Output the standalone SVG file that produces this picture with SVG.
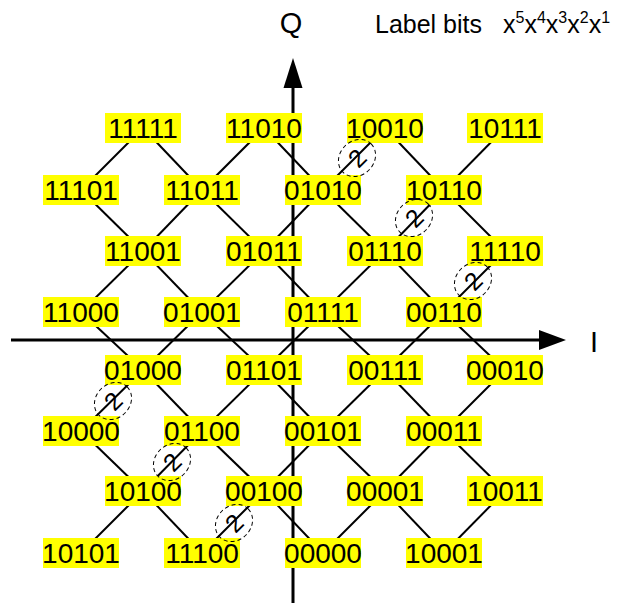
<svg xmlns="http://www.w3.org/2000/svg" width="619" height="604" viewBox="0 0 619 604">
<style>
.b{fill:#ffff00;stroke:none}
.t{font-family:"Liberation Sans",Arial,sans-serif;font-size:28px;fill:#000;text-anchor:middle}
.c line{stroke:#000;stroke-width:2}
.ax{stroke:#000;stroke-width:3}
.m ellipse{fill:none;stroke:#000;stroke-width:1;stroke-dasharray:4 3}
.m text{font-family:"Liberation Sans",Arial,sans-serif;font-size:25px;text-anchor:middle}
.lab{font-family:"Liberation Sans",Arial,sans-serif;fill:#000}
</style>
<rect width="619" height="604" fill="#fff"/>
<g id="connectors" class="c">
<line x1="143" y1="128" x2="81" y2="190"/><line x1="143" y1="128" x2="202" y2="190"/>
<line x1="264" y1="128" x2="202" y2="190"/><line x1="264" y1="128" x2="323" y2="190"/>
<line x1="385" y1="128" x2="323" y2="190"/><line x1="385" y1="128" x2="444" y2="190"/>
<line x1="505" y1="128" x2="444" y2="190"/>
<line x1="81" y1="190" x2="143" y2="251"/>
<line x1="202" y1="190" x2="143" y2="251"/><line x1="202" y1="190" x2="264" y2="251"/>
<line x1="323" y1="190" x2="264" y2="251"/><line x1="323" y1="190" x2="385" y2="251"/>
<line x1="444" y1="190" x2="385" y2="251"/><line x1="444" y1="190" x2="505" y2="251"/>
<line x1="143" y1="251" x2="81" y2="312"/><line x1="143" y1="251" x2="202" y2="312"/>
<line x1="264" y1="251" x2="202" y2="312"/><line x1="264" y1="251" x2="323" y2="312"/>
<line x1="385" y1="251" x2="323" y2="312"/><line x1="385" y1="251" x2="444" y2="312"/>
<line x1="505" y1="251" x2="444" y2="312"/>
<line x1="81" y1="312" x2="143" y2="370"/>
<line x1="202" y1="312" x2="143" y2="370"/><line x1="202" y1="312" x2="264" y2="370"/>
<line x1="323" y1="312" x2="264" y2="370"/><line x1="323" y1="312" x2="385" y2="370"/>
<line x1="444" y1="312" x2="385" y2="370"/><line x1="444" y1="312" x2="505" y2="370"/>
<line x1="143" y1="370" x2="81" y2="431"/><line x1="143" y1="370" x2="202" y2="431"/>
<line x1="264" y1="370" x2="202" y2="431"/><line x1="264" y1="370" x2="323" y2="431"/>
<line x1="385" y1="370" x2="323" y2="431"/><line x1="385" y1="370" x2="444" y2="431"/>
<line x1="505" y1="370" x2="444" y2="431"/>
<line x1="81" y1="431" x2="143" y2="491"/>
<line x1="202" y1="431" x2="143" y2="491"/><line x1="202" y1="431" x2="264" y2="491"/>
<line x1="323" y1="431" x2="264" y2="491"/><line x1="323" y1="431" x2="385" y2="491"/>
<line x1="444" y1="431" x2="385" y2="491"/><line x1="444" y1="431" x2="505" y2="491"/>
<line x1="143" y1="491" x2="81" y2="553"/><line x1="143" y1="491" x2="202" y2="553"/>
<line x1="264" y1="491" x2="202" y2="553"/><line x1="264" y1="491" x2="323" y2="553"/>
<line x1="385" y1="491" x2="323" y2="553"/><line x1="385" y1="491" x2="444" y2="553"/>
<line x1="505" y1="491" x2="444" y2="553"/>
</g>
<g id="axes">
<line class="ax" x1="11" y1="340" x2="545" y2="340"/>
<polygon points="539,330 566,340 539,350" fill="#000"/>
<line class="ax" x1="293" y1="603" x2="293" y2="84"/>
<polygon points="283.5,88 293,58 302.5,88" fill="#000"/>
<text class="lab" x="291" y="33" font-size="29" text-anchor="middle">Q</text>
<text class="lab" x="594" y="352" font-size="29" text-anchor="middle">I</text>
<text class="lab" x="375" y="33" font-size="25">Label bits</text>
<text class="lab" x="503" y="33" font-size="25">x<tspan font-size="16" dy="-10">5</tspan><tspan dy="10">x</tspan><tspan font-size="16" dy="-10">4</tspan><tspan dy="10">x</tspan><tspan font-size="16" dy="-10">3</tspan><tspan dy="10">x</tspan><tspan font-size="16" dy="-10">2</tspan><tspan dy="10">x</tspan><tspan font-size="16" dy="-10">1</tspan></text>
</g>
<g id="n11111"><rect class="b" x="105" y="113" width="76" height="30"/><text class="t" x="143" y="138">11111</text></g>
<g id="n11010"><rect class="b" x="226" y="113" width="76" height="30"/><text class="t" x="264" y="138">11010</text></g>
<g id="n10010"><rect class="b" x="347" y="113" width="76" height="30"/><text class="t" x="385" y="138">10010</text></g>
<g id="n10111"><rect class="b" x="467" y="113" width="76" height="30"/><text class="t" x="505" y="138">10111</text></g>
<g id="n11101"><rect class="b" x="43" y="175" width="76" height="30"/><text class="t" x="81" y="200">11101</text></g>
<g id="n11011"><rect class="b" x="164" y="175" width="76" height="30"/><text class="t" x="202" y="200">11011</text></g>
<g id="n01010"><rect class="b" x="285" y="175" width="76" height="30"/><text class="t" x="323" y="200">01010</text></g>
<g id="n10110"><rect class="b" x="406" y="175" width="76" height="30"/><text class="t" x="444" y="200">10110</text></g>
<g id="n11001"><rect class="b" x="105" y="236" width="76" height="30"/><text class="t" x="143" y="261">11001</text></g>
<g id="n01011"><rect class="b" x="226" y="236" width="76" height="30"/><text class="t" x="264" y="261">01011</text></g>
<g id="n01110"><rect class="b" x="347" y="236" width="76" height="30"/><text class="t" x="385" y="261">01110</text></g>
<g id="n11110"><rect class="b" x="467" y="236" width="76" height="30"/><text class="t" x="505" y="261">11110</text></g>
<g id="n11000"><rect class="b" x="43" y="297" width="76" height="30"/><text class="t" x="81" y="322">11000</text></g>
<g id="n01001"><rect class="b" x="164" y="297" width="76" height="30"/><text class="t" x="202" y="322">01001</text></g>
<g id="n01111"><rect class="b" x="285" y="297" width="76" height="30"/><text class="t" x="323" y="322">01111</text></g>
<g id="n00110"><rect class="b" x="406" y="297" width="76" height="30"/><text class="t" x="444" y="322">00110</text></g>
<g id="n01000"><rect class="b" x="105" y="355" width="76" height="30"/><text class="t" x="143" y="380">01000</text></g>
<g id="n01101"><rect class="b" x="226" y="355" width="76" height="30"/><text class="t" x="264" y="380">01101</text></g>
<g id="n00111"><rect class="b" x="347" y="355" width="76" height="30"/><text class="t" x="385" y="380">00111</text></g>
<g id="n00010"><rect class="b" x="467" y="355" width="76" height="30"/><text class="t" x="505" y="380">00010</text></g>
<g id="n10000"><rect class="b" x="43" y="416" width="76" height="30"/><text class="t" x="81" y="441">10000</text></g>
<g id="n01100"><rect class="b" x="164" y="416" width="76" height="30"/><text class="t" x="202" y="441">01100</text></g>
<g id="n00101"><rect class="b" x="285" y="416" width="76" height="30"/><text class="t" x="323" y="441">00101</text></g>
<g id="n00011"><rect class="b" x="406" y="416" width="76" height="30"/><text class="t" x="444" y="441">00011</text></g>
<g id="n10100"><rect class="b" x="105" y="476" width="76" height="30"/><text class="t" x="143" y="501">10100</text></g>
<g id="n00100"><rect class="b" x="226" y="476" width="76" height="30"/><text class="t" x="264" y="501">00100</text></g>
<g id="n00001"><rect class="b" x="347" y="476" width="76" height="30"/><text class="t" x="385" y="501">00001</text></g>
<g id="n10011"><rect class="b" x="467" y="476" width="76" height="30"/><text class="t" x="505" y="501">10011</text></g>
<g id="n10101"><rect class="b" x="43" y="538" width="76" height="30"/><text class="t" x="81" y="563">10101</text></g>
<g id="n11100"><rect class="b" x="164" y="538" width="76" height="30"/><text class="t" x="202" y="563">11100</text></g>
<g id="n00000"><rect class="b" x="285" y="538" width="76" height="30"/><text class="t" x="323" y="563">00000</text></g>
<g id="n10001"><rect class="b" x="406" y="538" width="76" height="30"/><text class="t" x="444" y="563">10001</text></g>
<g id="marks" class="m">
<g transform="translate(357,158) rotate(-45)"><ellipse cx="0" cy="0" rx="20" ry="17"/><text x="0" y="9">2</text></g>
<g transform="translate(414,218) rotate(-45)"><ellipse cx="0" cy="0" rx="20" ry="17"/><text x="0" y="9">2</text></g>
<g transform="translate(473,281) rotate(-45)"><ellipse cx="0" cy="0" rx="20" ry="17"/><text x="0" y="9">2</text></g>
<g transform="translate(113,401) rotate(-45)"><ellipse cx="0" cy="0" rx="20" ry="17"/><text x="0" y="9">2</text></g>
<g transform="translate(172,462) rotate(-45)"><ellipse cx="0" cy="0" rx="20" ry="17"/><text x="0" y="9">2</text></g>
<g transform="translate(234,523) rotate(-45)"><ellipse cx="0" cy="0" rx="20" ry="17"/><text x="0" y="9">2</text></g>
</g>
</svg>
